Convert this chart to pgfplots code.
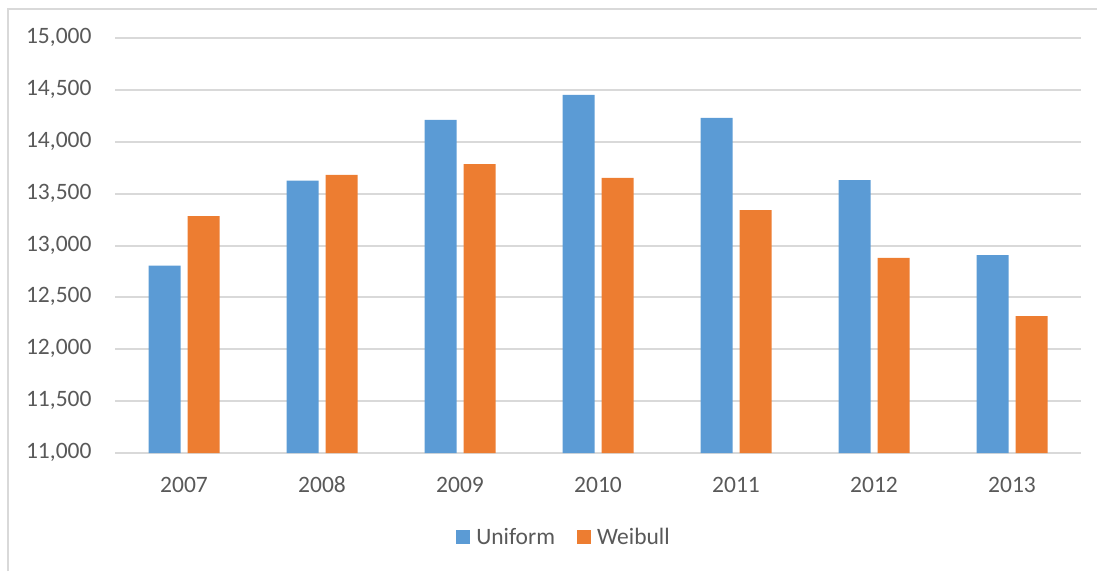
\documentclass[border=0pt]{standalone}
\usepackage{pgfplots}
\pgfplotsset{compat=1.18}
\usepackage{fontspec}
\setmainfont{Carlito}
\definecolor{uniblue}{HTML}{5B9BD5}
\definecolor{weiorange}{HTML}{ED7D31}
\definecolor{gridgray}{HTML}{D9D9D9}
\definecolor{labelgray}{HTML}{595959}
\begin{document}
\begin{tikzpicture}[x=1pt,y=1pt]
\useasboundingbox (0,0) rectangle (1097,571);
% chart frame
\draw[gridgray, line width=2pt] (8,0) -- (8,562) -- (1097,562);
\begin{axis}[
  at={(115pt,118pt)}, anchor=south west,
  scale only axis,
  width=966pt, height=415pt,
  ybar=7pt, bar width=32pt,
  xmin=-0.5, xmax=6.5,
  ymin=11000, ymax=15000,
  ytick={11000,11500,...,15000},
  xtick={0,...,6},
  xticklabels={2007,2008,2009,2010,2011,2012,2013},
  major tick length=0pt,
  axis lines*=left,
  x axis line style={gridgray, line width=2pt, -},
  y axis line style={draw=none},
  ymajorgrids,
  grid style={gridgray, line width=2pt},
  tick label style={font=\fontsize{23.5}{28}\selectfont, text=labelgray},
  typeset ticklabels with strut,
  yticklabel style={xshift=-20pt},
  xticklabel style={yshift=-16pt},
  scaled y ticks=false,
  /pgf/number format/assume math mode=true,
  /pgf/number format/1000 sep={,},
  /pgf/number format/fixed,
  legend columns=2,
  legend style={draw=none, at={(0.4648,-0.202)}, anchor=center,
    font=\fontsize{23.5}{28}\selectfont, text=labelgray,
    /tikz/every odd column/.append style={column sep=4pt},
    /tikz/every even column/.append style={column sep=20pt}},
  legend image code/.code={\fill[#1] (0pt,-7pt) rectangle (14pt,7pt);},
]
\addplot[fill=uniblue, draw=none] coordinates {
  (0,12805) (1,13625) (2,14210) (3,14451) (4,14229) (5,13631) (6,12908)};
\addlegendentry{Uniform}
\addplot[fill=weiorange, draw=none] coordinates {
  (0,13284) (1,13680) (2,13785) (3,13651) (4,13342) (5,12880) (6,12320)};
\addlegendentry{Weibull}
\end{axis}
\end{tikzpicture}
\end{document}
